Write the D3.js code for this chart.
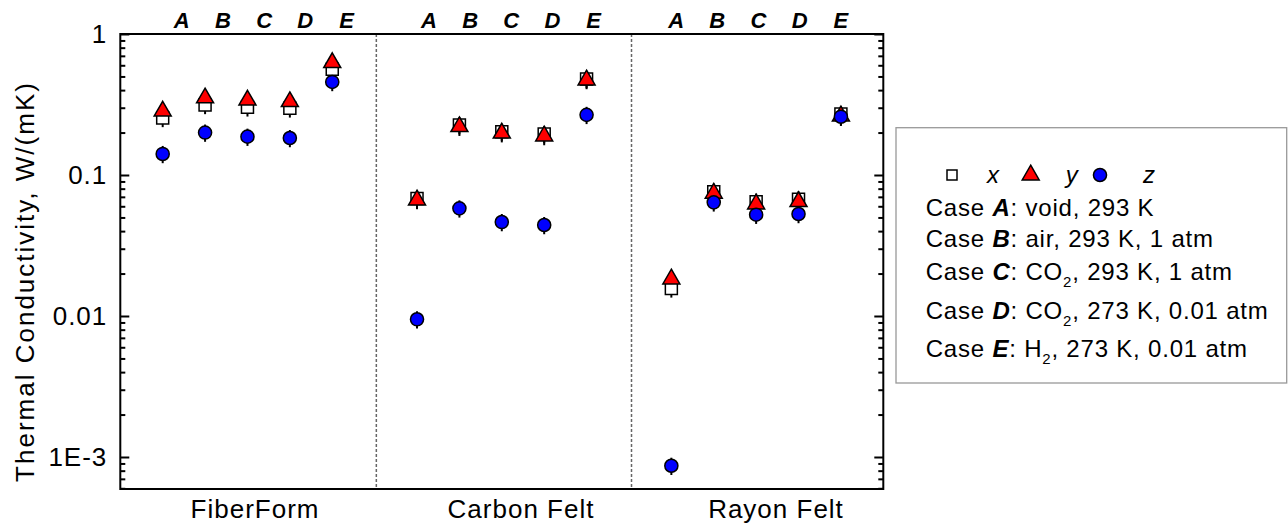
<!DOCTYPE html>
<html>
<head>
<meta charset="utf-8">
<script src="https://cdn.jsdelivr.net/npm/d3@7"></script>
<style>
  body { margin: 0; background: #fff; }
  text { font-family: Arial, "Liberation Sans", sans-serif; }
</style>
</head>
<body>
<svg width="1288" height="526"></svg>
<script>
// data
const materials = ["FiberForm", "Carbon Felt", "Rayon Felt"];
const cases = ["A", "B", "C", "D", "E"];
// thermal conductivity, W/(mK), one row per material, one column per case
const kx = [[0.254, 0.314, 0.302, 0.297, 0.562],
            [0.068, 0.226, 0.203, 0.195, 0.480],
            [0.0157, 0.0762, 0.0647, 0.0673, 0.271]];
const ky = [[0.284, 0.352, 0.340, 0.331, 0.626],
            [0.0665, 0.220, 0.198, 0.189, 0.472],
            [0.0183, 0.0742, 0.0623, 0.0647, 0.262]];
const kz = [[0.141, 0.200, 0.187, 0.183, 0.457],
            [0.00948, 0.0580, 0.0464, 0.0442, 0.267],
            [0.000867, 0.0640, 0.0523, 0.0529, 0.259]];
const relErr = 0.14;
const yTicks = [1, 0.1, 0.01, 0.001];
const yTickLabels = ["1", "0.1", "0.01", "1E-3"];
const caseText = [
  [": void, 293 K"],
  [": air, 293 K, 1 atm"],
  [": CO", "2", ", 293 K, 1 atm"],
  [": CO", "2", ", 273 K, 0.01 atm"],
  [": H", "2", ", 273 K, 0.01 atm"]
];

const svg = d3.select("svg");
const pLeft = 120.3, pRight = 883.3, pTop = 34, pBottom = 489;

const x = d3.scaleLinear().domain([0, 18]).range([pLeft, pRight]);
const y = d3.scaleLog().domain([5.93e-4, 1]).range([pBottom, pTop]);
const labelX = d3.scaleLinear().domain([1, 17]).range([181.7, 840.9]);
const pos = (m, c) => 1 + 6 * m + c;

// flatten into points
const series = [
  { key: "x", vals: kx, sym: d3.symbolSquare, size: 144, fill: "#fff" },
  { key: "y", vals: ky, sym: d3.symbolTriangle, size: 125, fill: "#ff0000" },
  { key: "z", vals: kz, sym: d3.symbolCircle, size: 135, fill: "#0000ff" }
];
series.forEach(s => {
  s.points = [];
  materials.forEach((mat, m) => cases.forEach((c, i) => {
    s.points.push({ i: pos(m, i), v: s.vals[m][i] });
  }));
});

// dividers
svg.append("g").selectAll("line").data([6.04, 12.06]).join("line")
  .attr("x1", d => x(d)).attr("x2", d => x(d))
  .attr("y1", pTop).attr("y2", pBottom)
  .attr("stroke", "#666").attr("stroke-width", 1.5).attr("stroke-dasharray", "3,2");

// axes ticks (inward, both sides)
const minor = [];
for (let e = -4; e < 0; e++) for (let k = 2; k <= 9; k++) {
  const v = k * Math.pow(10, e);
  if (v >= 5.93e-4 && v < 1) minor.push(v);
}
const styleAxis = g => {
  g.select(".domain").remove();
  g.selectAll(".tick line").attr("stroke", "#000").attr("stroke-width", 2);
};
svg.append("g").attr("transform", `translate(${pLeft},0)`)
  .call(d3.axisLeft(y).tickValues(minor).tickSize(-5).tickFormat(""))
  .call(styleAxis);
svg.append("g").attr("transform", `translate(${pRight},0)`)
  .call(d3.axisRight(y).tickValues(minor).tickSize(-5).tickFormat(""))
  .call(styleAxis);
svg.append("g").attr("transform", `translate(${pRight},0)`)
  .call(d3.axisRight(y).tickValues(yTicks).tickSize(-9).tickFormat(""))
  .call(styleAxis);
svg.append("g").attr("transform", `translate(${pLeft},0)`)
  .call(d3.axisLeft(y).tickValues(yTicks).tickSize(-9).tickPadding(13)
    .tickFormat((d, i) => yTickLabels[i]))
  .call(styleAxis)
  .call(g => g.selectAll(".tick text").attr("font-size", 26).attr("fill", "#000")
    .attr("font-family", "Arial, 'Liberation Sans', sans-serif").attr("letter-spacing", 1));

// frame
svg.append("rect").attr("x", pLeft).attr("y", pTop)
  .attr("width", pRight - pLeft).attr("height", pBottom - pTop)
  .attr("fill", "none").attr("stroke", "#000").attr("stroke-width", 2);

// error bars
const eb = svg.append("g");
series.forEach(s => {
  eb.selectAll(null).data(s.points).join("line")
    .attr("x1", d => x(d.i)).attr("x2", d => x(d.i))
    .attr("y1", d => y(d.v * (1 + relErr))).attr("y2", d => y(d.v * (1 - relErr)))
    .attr("stroke", "#000").attr("stroke-width", 2);
});

// markers
series.forEach(s => {
  svg.append("g").selectAll("path").data(s.points).join("path")
    .attr("d", d3.symbol(s.sym, s.size))
    .attr("transform", d => `translate(${x(d.i)},${y(d.v)})`)
    .attr("fill", s.fill).attr("stroke", "#000").attr("stroke-width", 1.5);
});

// case letters on top
const tl = [];
materials.forEach((mat, m) => cases.forEach((c, i) => tl.push({ i: pos(m, i), c })));
svg.append("g").selectAll("text").data(tl).join("text")
  .attr("x", d => labelX(d.i)).attr("y", 28)
  .attr("text-anchor", "middle").attr("font-size", 22)
  .attr("font-weight", "bold").attr("font-style", "italic")
  .text(d => d.c);

// material labels
const matX = [255, 521, 776];
svg.append("g").selectAll("text").data(materials).join("text")
  .attr("x", (d, i) => matX[i]).attr("y", 518)
  .attr("text-anchor", "middle").attr("font-size", 26).attr("letter-spacing", 1)
  .text(d => d);

// y title
svg.append("text")
  .attr("transform", `translate(34,${(pTop + pBottom) / 2 + 20}) rotate(-90)`)
  .attr("text-anchor", "middle").attr("font-size", 26).attr("letter-spacing", 2)
  .text("Thermal Conductivity, W/(mK)");

// legend
const lg = svg.append("g");
lg.append("rect").attr("x", 896).attr("y", 127.7).attr("width", 390.7).attr("height", 255.3)
  .attr("fill", "#fff").attr("stroke", "#999").attr("stroke-width", 1.3);
const legItems = [
  { s: series[0], mx: 952, tx: 993, size: 100 },
  { s: series[1], mx: 1030.7, tx: 1071.7, size: 125 },
  { s: series[2], mx: 1100, tx: 1149, size: 135 }
];
legItems.forEach(it => {
  lg.append("path").attr("d", d3.symbol(it.s.sym, it.size))
    .attr("transform", `translate(${it.mx},175)`)
    .attr("fill", it.s.fill).attr("stroke", "#000").attr("stroke-width", 1.5);
  lg.append("text").attr("x", it.tx).attr("y", 183).attr("text-anchor", "middle")
    .attr("font-size", 24).attr("font-style", "italic").text(it.s.key);
});
const lineY = [215.7, 247.3, 280, 319, 357.3];
cases.forEach((c, i) => {
  const t = lg.append("text").attr("x", 925.7).attr("y", lineY[i]).attr("font-size", 24)
    .attr("letter-spacing", 0.8);
  t.append("tspan").text("Case ");
  t.append("tspan").attr("font-weight", "bold").attr("font-style", "italic").text(c);
  const parts = caseText[i];
  t.append("tspan").text(parts[0]);
  if (parts.length > 1) {
    t.append("tspan").attr("font-size", 15).attr("dy", 7).text(parts[1]);
    t.append("tspan").attr("dy", -7).text(parts[2]);
  }
});
</script>
</body>
</html>
